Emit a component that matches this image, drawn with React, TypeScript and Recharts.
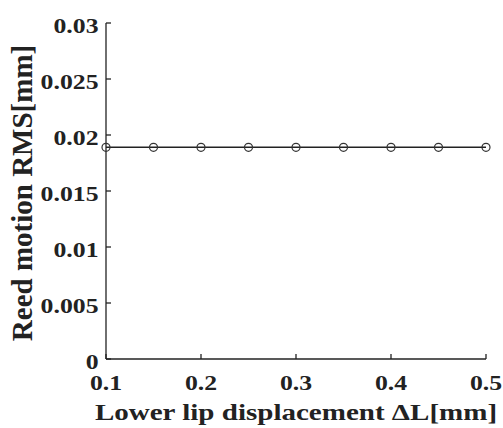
import { LineChart, Line, XAxis, YAxis } from "recharts";

const displacement = [0.1, 0.15, 0.2, 0.25, 0.3, 0.35, 0.4, 0.45, 0.5];
const reedRms = [0.0189, 0.0189, 0.0189, 0.0189, 0.0189, 0.0189, 0.0189, 0.0189, 0.0189];
const xTicks = [0.1, 0.2, 0.3, 0.4, 0.5];
const yTicks = [0, 0.005, 0.01, 0.015, 0.02, 0.025, 0.03];

const data = displacement.map((d, i) => ({ d, rms: reedRms[i] }));

const FONT = "'Liberation Serif', 'Times New Roman', serif";
const INK = "#222";

// ticks point into the plot, like the MATLAB original; text is a bit wide in the source image
function YTick(props: any) {
  const { x, y, payload } = props;
  return (
    <g>
      <line x1={x} y1={y} x2={x + 5} y2={y} stroke={INK} strokeWidth={1.3} />
      <text transform={`translate(${x - 7.5},${y + 9.7}) scale(1.17,1)`} textAnchor="end"
        fontFamily={FONT} fontWeight="bold" fontSize={22} fill={INK}>
        {String(payload.value)}
      </text>
    </g>
  );
}

function XTick(props: any) {
  const { x, y, payload } = props;
  return (
    <g>
      <line x1={x} y1={y} x2={x} y2={y - 5} stroke={INK} strokeWidth={1.3} />
      <text transform={`translate(${x},${y + 30.6}) scale(1.17,1)`} textAnchor="middle"
        fontFamily={FONT} fontWeight="bold" fontSize={22} fill={INK}>
        {payload.value.toFixed(1)}
      </text>
    </g>
  );
}

function XLabel(props: any) {
  const vb = props.viewBox;
  return (
    <text transform={`translate(${vb.x + vb.width / 2},${vb.y + 60.6}) scale(1.21,1)`} textAnchor="middle"
      fontFamily={FONT} fontWeight="bold" fontSize={24} fill={INK}>
      Lower lip displacement ΔL[mm]
    </text>
  );
}

function YLabel(props: any) {
  const vb = props.viewBox;
  return (
    <text transform={`translate(31.7,${vb.y + vb.height / 2 + 2}) rotate(-90)`} textAnchor="middle"
      fontFamily={FONT} fontWeight="bold" fontSize={29} fill={INK}>
      Reed motion RMS[mm]
    </text>
  );
}

export default function App() {
  return (
    <div style={{ position: "absolute", left: 0, top: 0, background: "#fff" }}>
      <LineChart width={503} height={428} data={data} margin={{ top: 23, right: 17, bottom: 0, left: 0 }}>
        <XAxis
          dataKey="d" type="number" domain={[0.1, 0.5]} ticks={xTicks}
          stroke={INK} strokeWidth={1.3} tickLine={false} tickSize={0} tickMargin={0}
          tick={<XTick />} height={69} label={{ content: XLabel }}
        />
        <YAxis
          type="number" domain={[0, 0.03]} ticks={yTicks}
          stroke={INK} strokeWidth={1.3} tickLine={false} tickSize={0} tickMargin={0}
          tick={<YTick />} width={106} label={{ content: YLabel }}
        />
        <Line
          dataKey="rms" stroke={INK} strokeWidth={1.6} isAnimationActive={false}
          dot={{ r: 4, stroke: "#333", strokeWidth: 1.2, fill: "none" }}
        />
      </LineChart>
    </div>
  );
}
